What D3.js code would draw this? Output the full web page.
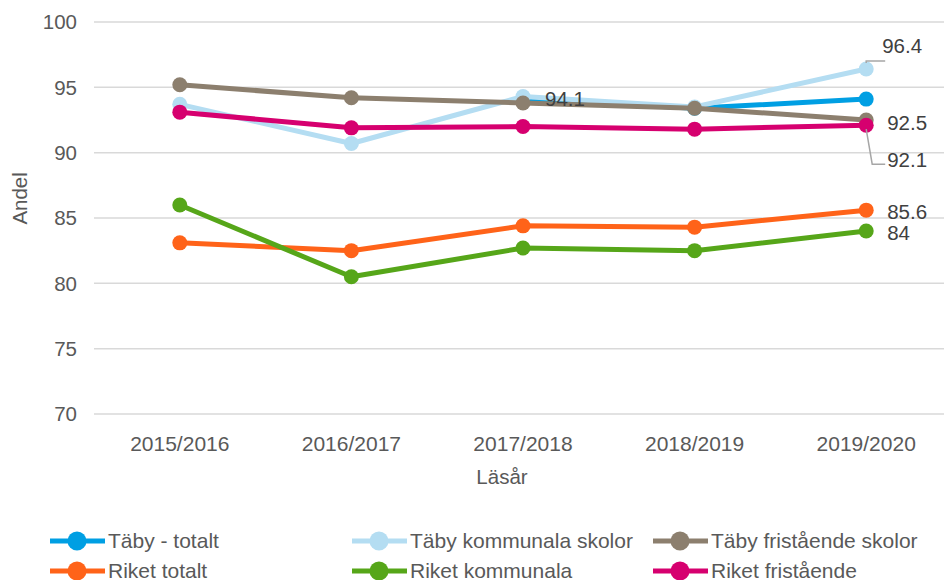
<!DOCTYPE html>
<html>
<head>
<meta charset="utf-8">
<script src="https://cdn.jsdelivr.net/npm/d3@7"></script>
<style>
  body { margin: 0; background: #fff; }
  text { font-family: "Liberation Sans", Arial, sans-serif; fill: #595959; }
</style>
</head>
<body>
<div id="container"></div>
<script>
var years = ["2015/2016", "2016/2017", "2017/2018", "2018/2019", "2019/2020"];
var yTicks = [70, 75, 80, 85, 90, 95, 100];

var tabyTotalt      = [null, null, 94.1, 93.4, 94.1];
var tabyKommunala   = [93.7, 90.7, 94.3, 93.5, 96.4];
var tabyFristaende  = [95.2, 94.2, 93.8, 93.4, 92.5];
var riketTotalt     = [83.1, 82.5, 84.4, 84.3, 85.6];
var riketKommunala  = [86.0, 80.5, 82.7, 82.5, 84.0];
var riketFristaende = [93.1, 91.9, 92.0, 91.8, 92.1];

var seriesNames  = ["Täby - totalt", "Täby kommunala skolor", "Täby fristående skolor",
                    "Riket totalt", "Riket kommunala", "Riket fristående"];
var seriesColors = ["#009fe3", "#b4ddf2", "#8c7f6e", "#ff6319", "#56a619", "#d6006f"];
var seriesValues = [tabyTotalt, tabyKommunala, tabyFristaende, riketTotalt, riketKommunala, riketFristaende];

// data labels: series index, year index, text offset
var labels = [
  {s: 0, i: 2, dx: 22, dy: 0, text: "94.1"},
  {s: 1, i: 4, dx: 16, dy: -23, text: "96.4", leader: true},
  {s: 2, i: 4, dx: 21, dy: 3, text: "92.5"},
  {s: 5, i: 4, dx: 21, dy: 35, text: "92.1", leader: true},
  {s: 3, i: 4, dx: 21, dy: 2, text: "85.6"},
  {s: 4, i: 4, dx: 21, dy: 2, text: "84"}
];

var width = 944, height = 580;
var margin = {top: 22, right: -8, bottom: 166, left: 94};

var svg = d3.select("#container")
  .append("svg")
  .attr("width", width)
  .attr("height", height);

var x = d3.scalePoint()
  .domain(years)
  .range([margin.left, width - margin.right])
  .padding(0.5);

var y = d3.scaleLinear()
  .domain([70, 100])
  .range([height - margin.bottom, margin.top]);

// gridlines
svg.append("g")
  .selectAll("line")
  .data(yTicks)
  .enter()
  .append("line")
  .attr("x1", margin.left)
  .attr("x2", width)
  .attr("y1", function(d) { return y(d); })
  .attr("y2", function(d) { return y(d); })
  .attr("stroke", "#d9d9d9")
  .attr("stroke-width", 1.5);

// y axis labels
svg.append("g")
  .selectAll("text")
  .data(yTicks)
  .enter()
  .append("text")
  .attr("x", 77)
  .attr("y", function(d) { return y(d); })
  .attr("dy", "0.35em")
  .attr("text-anchor", "end")
  .style("font-size", "20.5px")
  .text(function(d) { return d; });

// x axis labels
svg.append("g")
  .selectAll("text")
  .data(years)
  .enter()
  .append("text")
  .attr("x", function(d) { return x(d); })
  .attr("y", 451)
  .attr("text-anchor", "middle")
  .style("font-size", "21px")
  .text(function(d) { return d; });

svg.append("text")
  .attr("transform", "translate(27," + y(86.5) + ") rotate(-90)")
  .attr("text-anchor", "middle")
  .style("font-size", "20.5px")
  .text("Andel");

svg.append("text")
  .attr("x", x(years[2]) - 21)
  .attr("y", 484)
  .attr("text-anchor", "middle")
  .style("font-size", "20.5px")
  .text("Läsår");

var line = d3.line()
  .defined(function(d) { return d != null; })
  .x(function(d, i) { return x(years[i]); })
  .y(function(d) { return y(d); });

seriesValues.forEach(function(vals, s) {
  var g = svg.append("g");
  g.append("path")
    .datum(vals)
    .attr("d", line)
    .attr("fill", "none")
    .attr("stroke", seriesColors[s])
    .attr("stroke-width", 5)
    .attr("stroke-linejoin", "round");
  g.selectAll("circle")
    .data(vals.map(function(v, i) { return {v: v, i: i}; }).filter(function(d) { return d.v != null; }))
    .enter()
    .append("circle")
    .attr("cx", function(d) { return x(years[d.i]); })
    .attr("cy", function(d) { return y(d.v); })
    .attr("r", 7.5)
    .attr("fill", seriesColors[s]);
});

// data labels
labels.forEach(function(l) {
  var px = x(years[l.i]), py = y(seriesValues[l.s][l.i]);
  if (l.leader) {
    var ly = l.dy < 0 ? py + l.dy + 15 : py + l.dy + 4;
    svg.append("path")
      .attr("d", "M" + px + "," + (py + (l.dy < 0 ? -6 : 4)) + "L" + (l.dy < 0 ? px : px + 6) + "," + ly + "L" + (px + 19) + "," + ly)
      .attr("fill", "none")
      .attr("stroke", "#a6a6a6")
      .attr("stroke-width", 1.5);
  }
  svg.append("text")
    .attr("x", px + l.dx)
    .attr("y", py + l.dy)
    .attr("dy", "0.35em")
    .style("font-size", "20.5px")
    .style("fill", "#404040")
    .text(l.text);
});

// legend
var legendX = [50, 352, 653], legendY = [541, 571];
seriesNames.forEach(function(name, s) {
  var lx = legendX[s % 3], ly = legendY[Math.floor(s / 3)];
  var g = svg.append("g").attr("transform", "translate(" + lx + "," + ly + ")");
  g.append("line")
    .attr("x1", 0).attr("x2", 55)
    .attr("stroke", seriesColors[s])
    .attr("stroke-width", 5);
  g.append("circle")
    .attr("cx", 27)
    .attr("r", 9.5)
    .attr("fill", seriesColors[s]);
  g.append("text")
    .attr("x", 58)
    .attr("dy", "0.35em")
    .style("font-size", "21px")
    .text(name);
});
</script>
</body>
</html>
